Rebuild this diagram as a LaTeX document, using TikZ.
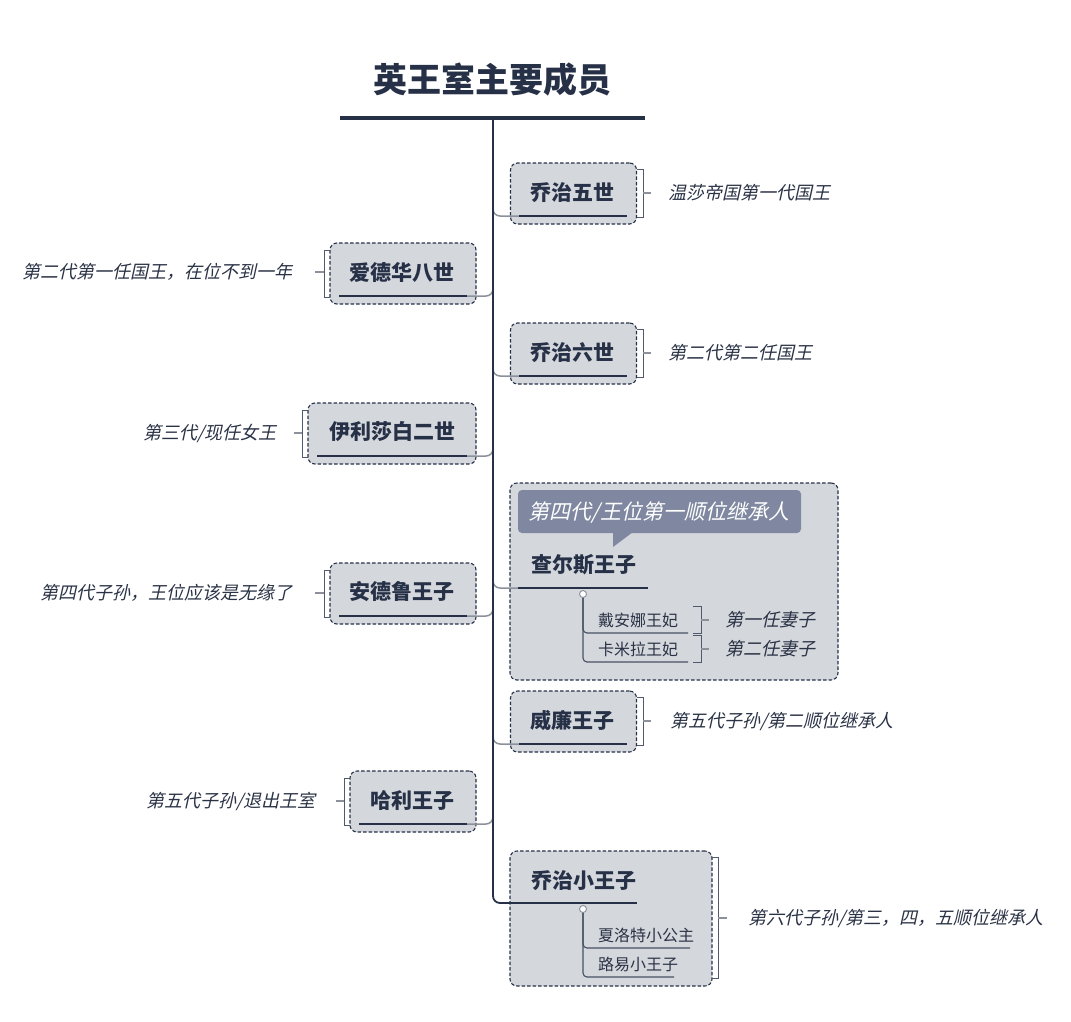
\documentclass[tikz,border=0pt]{standalone}
\usepackage{fontspec}
\setmainfont{Noto Sans CJK SC}
\newfontfamily\cjk{Noto Sans CJK SC}
\newfontfamily\cjkit{Noto Sans CJK SC}[FakeSlant=0.22]
\definecolor{navy}{HTML}{263147}
\definecolor{boxfill}{HTML}{D4D7DC}
\definecolor{callout}{HTML}{7F88A0}
\definecolor{conn}{HTML}{8B909A}
\definecolor{txt}{HTML}{2A3245}
\tikzset{
  x=1pt,y=-1pt,
  mbox/.style={draw=navy,dashed,dash pattern=on 3.5pt off 2pt,fill=boxfill,rounded corners=7pt,line width=1.1pt,inner sep=0pt},
  mtext/.style={font=\cjk\bfseries\fontsize{21}{21}\selectfont,text=navy,inner sep=0pt},
  ctext/.style={font=\cjkit\fontsize{18}{18}\selectfont,text=txt,inner sep=0pt},
  kid/.style={font=\cjk\fontsize{16}{16}\selectfont,text=txt,inner sep=0pt,anchor=west},
  uline/.style={draw=navy,line width=2.6pt},
  branch/.style={draw=conn,line width=1.5pt,rounded corners=7pt},
  kline/.style={draw=navy!85,line width=1.1pt,rounded corners=4pt},
  brk/.style={draw=navy!80,line width=1pt},
  tick/.style={draw=conn,line width=1.2pt},
  dot/.style={circle,draw=conn,fill=white,line width=0.9pt,minimum size=7pt,inner sep=0pt}
}
\begin{document}
\begin{tikzpicture}
\useasboundingbox (0,0) rectangle (1071,1021);
% title
\node[font=\cjk\bfseries\fontsize{34}{34}\selectfont,text=navy,inner sep=0pt] (title) at (492,80) {英王室主要成员};
\coordinate (tl) at (340,118);
\coordinate (tr) at (645,118);
\draw[navy,line width=4pt] (tl) -- (tr);
\coordinate (ttop) at (493,118);

% ---------- boxes ----------
\node[mbox,minimum width=126pt,minimum height=61pt] (b1) at (573.5,193.5) {};
\node[mtext] (n1) at (572,193) {乔治五世};
\node[mbox,minimum width=146pt,minimum height=61pt] (b2) at (403,273.5) {};
\node[mtext] (n2) at (402,272) {爱德华八世};
\node[mbox,minimum width=126pt,minimum height=61pt] (b3) at (573.5,353.5) {};
\node[mtext] (n3) at (572,353) {乔治六世};
\node[mbox,minimum width=168pt,minimum height=61pt] (b4) at (392,433.5) {};
\node[mtext] (n4) at (392,432) {伊利莎白二世};
\node[mbox,minimum width=328pt,minimum height=197pt] (b5) at (674,581.5) {};
\node[mbox,minimum width=146pt,minimum height=61pt] (b6) at (403,593.5) {};
\node[mtext] (n6) at (402,592) {安德鲁王子};
\node[mbox,minimum width=126pt,minimum height=61pt] (b7) at (573.5,721.5) {};
\node[mtext] (n7) at (572,720) {威廉王子};
\node[mbox,minimum width=126pt,minimum height=61pt] (b8) at (413,801.5) {};
\node[mtext] (n8) at (412,800) {哈利王子};
\node[mbox,minimum width=202pt,minimum height=135pt] (b9) at (611,918.5) {};

% ---------- underline coordinates ----------
\coordinate (u1a) at (519,216); \coordinate (u1b) at (627,216);
\coordinate (u2a) at (339,296); \coordinate (u2b) at (467,296);
\coordinate (u3a) at (519,376); \coordinate (u3b) at (627,376);
\coordinate (u4a) at (317,456); \coordinate (u4b) at (467,456);
\coordinate (u5a) at (518,588); \coordinate (u5b) at (648,588);
\coordinate (u6a) at (339,616); \coordinate (u6b) at (467,616);
\coordinate (u7a) at (519,744); \coordinate (u7b) at (627,744);
\coordinate (u8a) at (359,824); \coordinate (u8b) at (467,824);
\coordinate (u9a) at (518,903); \coordinate (u9b) at (637,903);

% ---------- branches ----------
\draw[branch] (493,190) |- (u1a);
\draw[branch] (493,270) |- (u2b);
\draw[branch] (493,350) |- (u3a);
\draw[branch] (493,430) |- (u4b);
\draw[branch] (493,560) |- (u5a);
\draw[branch] (493,590) |- (u6b);
\draw[branch] (493,720) |- (u7a);
\draw[branch] (493,800) |- (u8b);
\draw[navy,line width=1.8pt,rounded corners=7pt] (ttop) |- (u9a);

% underlines
\foreach \i in {1,...,9}{\draw[uline] (u\i a) -- (u\i b);}

% ---------- right comments ----------
\draw[brk] (637,169) -- (643,169) -- (643,217) -- (637,217);
\draw[tick] (643,193) -- (651,193);
\node[ctext,anchor=west] (c1) at (668,193) {温莎帝国第一代国王};
\draw[brk] (637,329) -- (643,329) -- (643,377) -- (637,377);
\draw[tick] (643,353) -- (651,353);
\node[ctext,anchor=west] (c3) at (668,353) {第二代第二任国王};
\draw[brk] (637,697) -- (643,697) -- (643,745) -- (637,745);
\draw[tick] (643,721) -- (651,721);
\node[ctext,anchor=west] (c7) at (670,721) {第五代子孙/第二顺位继承人};

% ---------- left comments ----------
\draw[brk] (330,250) -- (324,250) -- (324,297) -- (330,297);
\draw[tick] (324,272) -- (315,272);
\node[ctext,anchor=east] (c2) at (293,272) {第二代第一任国王，在位不到一年};
\draw[brk] (308,410) -- (302,410) -- (302,457) -- (308,457);
\draw[tick] (302,433) -- (294,433);
\node[ctext,anchor=east] (c4) at (277,433) {第三代/现任女王};
\draw[brk] (330,570) -- (324,570) -- (324,617) -- (330,617);
\draw[tick] (324,593) -- (315,593);
\node[ctext,anchor=east] (c6) at (293,593) {第四代子孙，王位应该是无缘了};
\draw[brk] (350,778) -- (344,778) -- (344,825) -- (350,825);
\draw[tick] (344,801) -- (336,801);
\node[ctext,anchor=east] (c8) at (316,801) {第五代子孙/退出王室};

% ---------- Charles ----------
\node[fill=callout,rounded corners=4pt,minimum width=283pt,minimum height=43pt,inner sep=0pt] (call) at (659.5,511.5) {};
\fill[callout] (613,532) -- (633,532) -- (613,547) -- cycle;
\node[font=\cjkit\fontsize{21}{21}\selectfont,text=white,inner sep=0pt] (calltext) at (659,512) {第四代/王位第一顺位继承人};
\node[mtext,anchor=west] (n5) at (531,565) {查尔斯王子};
\node[dot] (d5) at (583,594) {};
\coordinate (k1) at (688,633);
\coordinate (k2) at (688,662);
\draw[kline] (d5.south) |- (k1);
\draw[kline] (d5.south) |- (k2);
\node[kid] (kd1) at (598,620) {戴安娜王妃};
\node[kid] (kd2) at (598,649) {卡米拉王妃};
\draw[brk] (693,606) -- (701,606) -- (701,633) -- (693,633);
\draw[tick] (701,620) -- (709,620);
\node[ctext,anchor=west] (c51) at (725,620) {第一任妻子};
\draw[brk] (693,635) -- (701,635) -- (701,662) -- (693,662);
\draw[tick] (701,649) -- (709,649);
\node[ctext,anchor=west] (c52) at (725,649) {第二任妻子};

% ---------- George jr ----------
\node[mtext,anchor=west] (n9) at (531,881) {乔治小王子};
\node[dot] (d9) at (583,909) {};
\coordinate (k3) at (690,948);
\coordinate (k4) at (674,977);
\draw[kline] (d9.south) |- (k3);
\draw[kline] (d9.south) |- (k4);
\node[kid] (kd3) at (598,935) {夏洛特小公主};
\node[kid] (kd4) at (598,964) {路易小王子};
\draw[brk] (712,857) -- (718,857) -- (718,978) -- (712,978);
\draw[tick] (718,918) -- (727,918);
\node[ctext,anchor=west] (c9) at (748,918) {第六代子孙/第三，四，五顺位继承人};
\end{tikzpicture}
\end{document}
